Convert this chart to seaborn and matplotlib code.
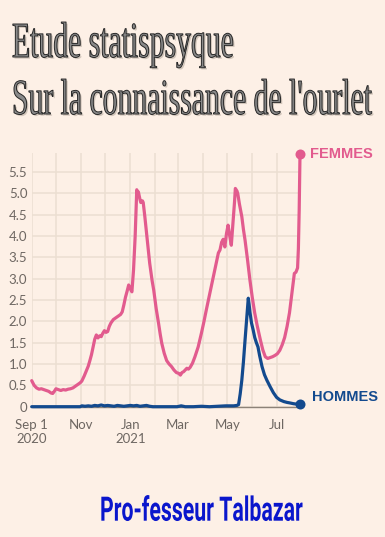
import matplotlib

matplotlib.use("Agg")
import matplotlib.colors as mcolors
import matplotlib.dates as mdates
import matplotlib.pyplot as plt
import pandas as pd
import seaborn as sns
from matplotlib import patheffects
from matplotlib.transforms import Affine2D

# --- data ------------------------------------------------------------------
TITLE_LINES = ["Etude statispsyque", "Sur la connaissance de l'ourlet"]
SIGNATURE = "Pro-fesseur Talbazar"
START = pd.Timestamp("2020-09-01")

# days since Sep 1 2020
femmes_days = [
    0, 3, 6, 9, 12, 15, 18, 21, 24, 26, 28, 30, 33, 36, 39, 42, 45, 48, 51, 54,
    57, 60, 62, 65, 68, 70, 72, 74, 76, 78, 80, 82, 84, 86, 88, 90, 92, 94, 96,
    98, 101, 104, 107, 110, 112, 114, 116, 118, 120, 122, 124, 126, 128, 130,
    131, 132, 134, 135, 137, 138, 140, 143, 146, 149, 151, 154, 157, 159, 161,
    164, 167, 170, 173, 176, 179, 182, 184, 186, 188, 190, 192, 194, 196, 199,
    202, 206, 210, 213, 216, 220, 223, 226, 229, 231, 233, 235, 237, 239, 241,
    243, 245, 247, 249, 251, 252, 254, 255, 257, 260, 262, 264, 267, 270, 273,
    276, 279, 283, 286, 289, 292, 295, 298, 301, 304, 307, 310, 313, 316, 319,
    322, 325, 327, 328, 329, 330, 331, 332,
]
femmes_values = [
    0.61, 0.50, 0.44, 0.41, 0.42, 0.40, 0.38, 0.36, 0.32, 0.31, 0.36, 0.42, 0.40,
    0.38, 0.40, 0.39, 0.41, 0.42, 0.44, 0.48, 0.52, 0.56, 0.60, 0.72, 0.86, 0.95,
    1.08, 1.22, 1.40, 1.58, 1.68, 1.61, 1.66, 1.64, 1.72, 1.78, 1.74, 1.76, 1.88,
    1.96, 2.04, 2.08, 2.12, 2.16, 2.22, 2.38, 2.56, 2.70, 2.85, 2.76, 2.69, 3.20,
    3.98, 5.08, 5.00, 5.03, 4.85, 4.78, 4.82, 4.78, 4.45, 3.90, 3.36, 2.95, 2.73,
    2.30, 1.95, 1.70, 1.48, 1.25, 1.08, 1.00, 0.94, 0.86, 0.80, 0.78, 0.74, 0.80,
    0.82, 0.86, 0.90, 0.88, 0.92, 1.02, 1.17, 1.40, 1.72, 1.98, 2.26, 2.62, 2.89,
    3.16, 3.43, 3.60, 3.67, 3.85, 3.92, 3.74, 4.05, 4.25, 4.00, 3.78, 4.29, 4.80,
    5.11, 5.05, 4.99, 4.75, 4.45, 4.15, 3.90, 3.45, 2.97, 2.55, 2.19, 1.90, 1.56,
    1.33, 1.17, 1.13, 1.15, 1.17, 1.20, 1.24, 1.32, 1.45, 1.62, 1.88, 2.20, 2.65,
    3.12, 3.15, 3.20, 3.25, 3.70, 4.60, 5.92,
]

hommes_days = [
    0, 30, 60, 62, 66, 70, 74, 78, 82, 86, 90, 94, 98, 102, 106, 110, 114, 118,
    122, 126, 130, 134, 138, 142, 146, 150, 160, 170, 180, 185, 190, 200, 210,
    220, 230, 240, 250, 254, 256, 258, 260, 262, 264, 266, 268, 269, 270, 272,
    274, 276, 278, 280, 282, 285, 288, 291, 295, 299, 303, 307, 312, 316, 319,
    324, 328, 332,
]
hommes_values = [
    0.0, 0.0, 0.0, 0.02, 0.01, 0.02, 0.01, 0.03, 0.02, 0.04, 0.02, 0.03, 0.02,
    0.01, 0.03, 0.02, 0.01, 0.02, 0.03, 0.02, 0.03, 0.01, 0.02, 0.03, 0.01, 0.0,
    0.0, 0.0, 0.0, 0.02, 0.0, 0.0, 0.01, 0.0, 0.01, 0.02, 0.02, 0.03, 0.05, 0.30,
    0.62, 1.05, 1.56, 2.05, 2.54, 2.40, 2.22, 1.96, 1.80, 1.62, 1.50, 1.40, 1.20,
    0.94, 0.75, 0.62, 0.47, 0.33, 0.22, 0.16, 0.12, 0.10, 0.09, 0.07, 0.06, 0.06,
]

Y_TICKS = [0, 0.5, 1.0, 1.5, 2.0, 2.5, 3.0, 3.5, 4.0, 4.5, 5.0, 5.5]
Y_LABELS = ["0", "0.5", "1.0", "1.5", "2.0", "2.5", "3.0", "3.5", "4.0", "4.5", "5.0", "5.5"]
X_LABELS = ["Sep 1\n2020", "Nov", "Jan\n2021", "Mar", "May", "Jul"]

# --- style -----------------------------------------------------------------
BG = "#fdf0e6"
GRID = "#ecdfd2"
PINK = "#e25b8e"
BLUE = "#134a8e"
TICK = "#6e6762"
W, H, DPI = 385, 537, 100

sns.set_theme(style="whitegrid", rc={
    "figure.facecolor": BG,
    "axes.facecolor": BG,
    "savefig.facecolor": BG,
    "grid.color": GRID,
    "grid.linewidth": 1.1,
})
plt.rcParams["font.family"] = ["Lato", "DejaVu Sans"]


class TallText(patheffects.AbstractPathEffect):
    """Draw text glyphs stretched vertically about their baseline."""

    def __init__(self, baseline, stretch, offset=(0, 0), face=None, edge=None, width=0.0):
        super().__init__(offset)
        self.baseline = baseline
        self.stretch = stretch
        self.face = None if face is None else mcolors.to_rgba(face)
        self.edge = edge
        self.width = width

    def draw_path(self, renderer, gc, tpath, affine, rgbFace=None):
        gc0 = renderer.new_gc()
        gc0.copy_properties(gc)
        gc0.set_linewidth(self.width)
        if self.edge is not None:
            gc0.set_foreground(self.edge)
        tall = Affine2D().translate(0, -self.baseline).scale(1, self.stretch).translate(0, self.baseline)
        face = self.face if self.face is not None else rgbFace
        renderer.draw_path(gc0, tpath, affine + tall + self._offset_transform(renderer), face)
        gc0.restore()


def tall_text(fig, text, left, baseline, width_px, cap_px, cap_em, **kw):
    """Place text so that it spans width_px and has a cap height of cap_px."""
    t = fig.text(left / W, 1 - baseline / H, text, ha="left", va="baseline", fontsize=20, **kw)
    renderer = fig.canvas.get_renderer()
    w = t.get_window_extent(renderer).width
    size = 20 * width_px / w
    t.set_fontsize(size)
    stretch = cap_px / (cap_em * size * DPI / 72)
    return t, stretch


fig = plt.figure(figsize=(W / DPI, H / DPI), dpi=DPI)
ax = fig.add_axes([31.7 / W, 1 - 406.7 / H, (300 - 31.7) / W, (406.7 - 153) / H])

df = pd.concat([
    pd.DataFrame({"date": START + pd.to_timedelta(femmes_days, unit="D"),
                  "value": femmes_values, "sexe": "FEMMES"}),
    pd.DataFrame({"date": START + pd.to_timedelta(hommes_days, unit="D"),
                  "value": hommes_values, "sexe": "HOMMES"}),
], ignore_index=True)

ax.axhline(0, color="#8c8278", lw=1.0, zorder=1)
sns.lineplot(data=df, x="date", y="value", hue="sexe", palette={"FEMMES": PINK, "HOMMES": BLUE},
             linewidth=2.3, legend=False, ax=ax, zorder=3)
for line in ax.lines:
    line.set_clip_on(False)
    line.set_solid_joinstyle("round")

# end points and labels
for sexe, color, dy, dx in [("FEMMES", PINK, 0, 7.5), ("HOMMES", BLUE, 5, 8.5)]:
    last = df[df["sexe"] == sexe].iloc[-1]
    ax.scatter([last["date"]], [last["value"]], s=52, color=color, zorder=5, clip_on=False, linewidths=0)
    ax.annotate(sexe, (last["date"], last["value"]), xytext=(dx, dy), textcoords="offset points",
                ha="left", va="center", color=color, fontsize=10.5, fontweight="bold",
                family=["Liberation Sans", "DejaVu Sans"], annotation_clip=False)

ax.set_xlim(START, df["date"].max())
ax.set_ylim(0, 5.94)
ax.xaxis.set_major_locator(mdates.MonthLocator(bymonth=[1, 3, 5, 7, 9, 11]))
ax.xaxis.set_minor_locator(mdates.MonthLocator(bymonth=[2, 4, 6, 8, 10, 12]))
ax.set_xticks(ax.get_xticks())
ax.set_xticklabels(X_LABELS)
ax.set_yticks(Y_TICKS)
ax.set_yticklabels(Y_LABELS)
ax.grid(True, which="both", axis="x", color=GRID, lw=1.1)
ax.grid(True, which="major", axis="y", color=GRID, lw=1.1)
ax.tick_params(axis="x", which="both", length=0, pad=9.0, labelsize=9.5, labelcolor=TICK)
ax.tick_params(axis="y", length=0, pad=3.2, labelsize=9.5, labelcolor=TICK)
for lbl in ax.get_xticklabels():
    lbl.set_linespacing(1.2)
ax.set_xlabel("")
ax.set_ylabel("")
sns.despine(ax=ax, left=True, bottom=True)

# title, drawn tall and narrow like the original condensed serif
serif = ["Liberation Serif", "DejaVu Serif"]
t2, s2 = tall_text(fig, TITLE_LINES[1], 12, 114, 360, 33, 0.655, family=serif, color="#4d4d4d")
t1 = fig.text(12 / W, 1 - 57 / H, TITLE_LINES[0], ha="left", va="baseline",
              fontsize=t2.get_fontsize(), family=serif, color="#4d4d4d")
for t, base in [(t1, H - 57), (t2, H - 114)]:
    t.set_path_effects([
        TallText(base, s2, offset=(1.2, -1.2), face="#d2c6bb"),
        TallText(base, s2, face="#8a8a8a", edge="#262626", width=0.7),
    ])

sig, s3 = tall_text(fig, SIGNATURE, 100, 520.7, 202, 24, 0.711,
                    family=["Roboto", "DejaVu Sans"], fontweight="semibold", color="#0a16cc")
sig.set_path_effects([TallText(H - 520.7, s3)])

fig.savefig("out.png", dpi=DPI)
